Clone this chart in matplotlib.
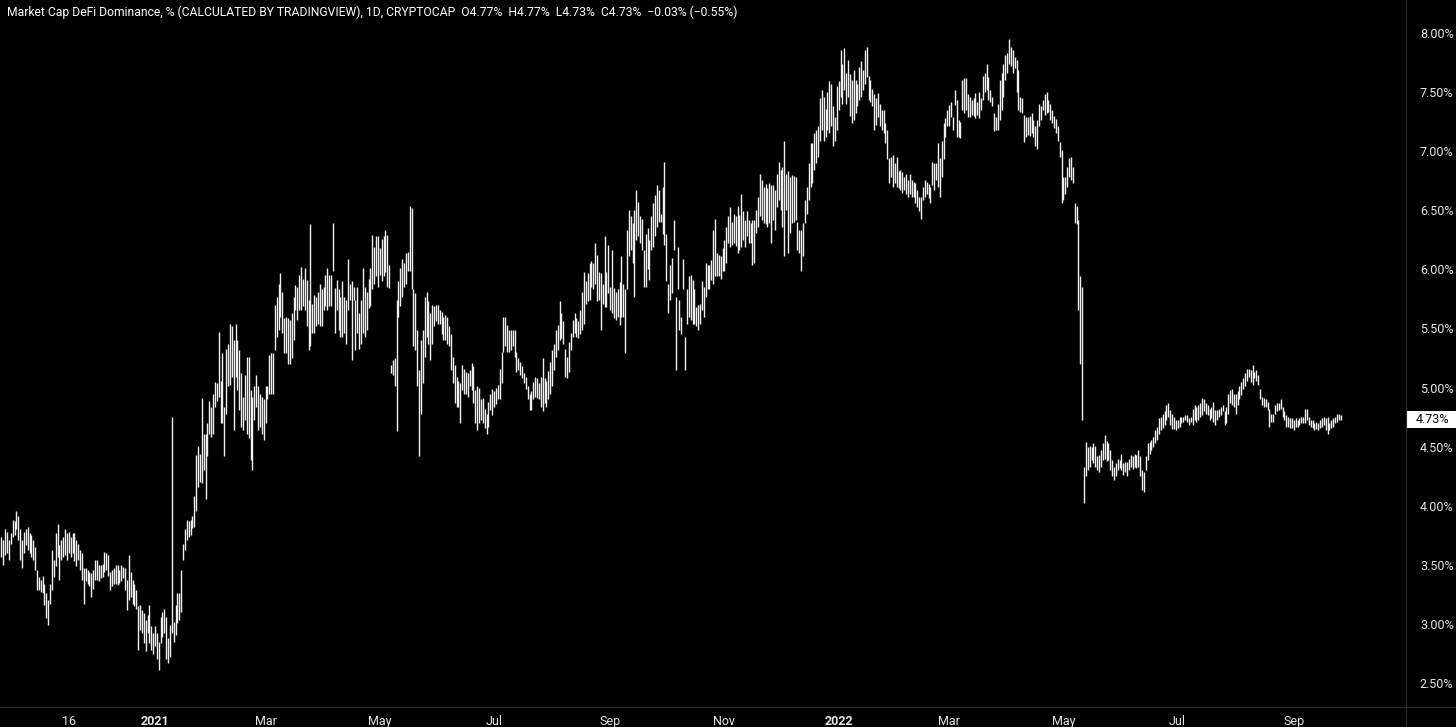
import matplotlib
matplotlib.use("Agg")
import matplotlib.pyplot as plt
import matplotlib.dates as mdates
import matplotlib.transforms as mtransforms
from matplotlib.patches import Rectangle
from matplotlib.lines import Line2D
import numpy as np
import pandas as pd

plt.rcParams['font.family'] = ['Roboto', 'DejaVu Sans']

title = 'Market Cap DeFi Dominance, % (CALCULATED BY TRADINGVIEW), 1D, CRYPTOCAP'
ohlc_text = 'O4.77%  H4.77%  L4.73%  C4.73%  \u22120.03% (\u22120.55%)'
last_price = 4.73

# daily bars as (low, high) in %
bars_2020_10 = [
    (3.57, 3.74), (3.50, 3.71), (3.58, 3.80), (3.60, 3.78), (3.54, 3.71), (3.68, 3.77), (3.74, 3.88), (3.75, 3.87),
    (3.80, 3.96), (3.71, 3.91), (3.54, 3.80), (3.47, 3.71), (3.60, 3.78), (3.67, 3.80), (3.63, 3.82), (3.60, 3.77),
    (3.57, 3.75), (3.54, 3.71), (3.46, 3.65), (3.29, 3.46), (3.29, 3.40), (3.27, 3.37), (3.26, 3.41), (3.16, 3.34),
    (3.05, 3.26), (2.99, 3.20), (3.17, 3.34), (3.29, 3.63), (3.40, 3.54), (3.49, 3.77), (3.57, 3.85), (3.37, 3.67),
    (3.54, 3.71), (3.57, 3.74), (3.58, 3.80), (3.54, 3.77), (3.60, 3.78), (3.57, 3.74), (3.60, 3.77), (3.53, 3.77),
    (3.49, 3.71), (3.54, 3.68), (3.46, 3.63), (3.37, 3.60), (3.17, 3.47), (3.36, 3.47), (3.34, 3.46), (3.32, 3.44),
    (3.23, 3.43), (3.30, 3.46), (3.37, 3.54), (3.37, 3.54), (3.36, 3.50), (3.39, 3.50), (3.40, 3.51), (3.44, 3.61),
    (3.46, 3.60), (3.41, 3.58), (3.29, 3.44), (3.32, 3.46), (3.34, 3.47), (3.34, 3.50), (3.33, 3.50), (3.35, 3.46),
]
bars_2020_12 = [
    (3.36, 3.50), (3.39, 3.48), (3.29, 3.47), (3.12, 3.37), (3.20, 3.58), (3.23, 3.44), (3.17, 3.37), (3.15, 3.34),
    (3.13, 3.29), (2.78, 3.15), (2.95, 3.16), (2.92, 3.12), (2.84, 3.09), (2.77, 3.03), (2.92, 3.08), (2.84, 3.16),
    (2.78, 2.98), (2.75, 2.92), (2.81, 2.98), (2.70, 2.92), (2.61, 2.85), (2.84, 3.06), (2.89, 3.10), (2.92, 3.13),
    (2.70, 3.06), (2.67, 2.88), (2.72, 2.99), (2.92, 4.75), (2.85, 3.02), (2.91, 3.16), (3.01, 3.26), (3.03, 3.26),
    (3.10, 3.46), (3.54, 3.68), (3.63, 3.80), (3.71, 3.88), (3.74, 3.87), (3.75, 3.88), (3.81, 3.91), (3.82, 4.08),
    (3.96, 4.43), (4.16, 4.51), (4.20, 4.44), (4.19, 4.91), (4.30, 4.61), (4.06, 4.61), (4.42, 4.70), (4.61, 4.89),
    (4.58, 4.84), (4.61, 4.95), (4.84, 5.05), (4.89, 5.04), (4.92, 5.47), (4.70, 5.06), (4.70, 5.29), (4.42, 4.84),
    (4.78, 5.33), (5.01, 5.37), (5.02, 5.54), (5.09, 5.52), (4.64, 5.40),
]
bars_2021_02 = [
    (5.09, 5.54), (4.98, 5.40), (4.81, 5.32), (4.67, 5.12), (4.64, 4.92), (4.73, 5.11), (4.61, 5.26), (4.57, 5.26),
    (4.39, 4.98), (4.30, 4.92), (4.73, 5.01), (4.84, 5.11), (4.64, 5.01), (4.67, 4.95), (4.61, 4.92), (4.56, 4.90),
    (4.70, 5.01), (4.90, 5.01), (4.95, 5.28), (4.95, 5.29), (4.95, 5.29), (5.32, 5.70), (5.43, 5.77), (5.49, 5.88),
    (5.60, 5.97), (5.46, 5.81), (5.29, 5.59), (5.29, 5.60), (5.20, 5.59), (5.20, 5.57), (5.25, 5.63), (5.40, 5.77),
    (5.66, 5.87), (5.57, 5.85), (5.66, 5.95), (5.66, 6.02), (5.69, 5.92), (5.66, 6.01), (5.52, 5.91), (5.32, 5.74),
    (5.35, 6.38), (5.46, 5.71), (5.46, 5.78), (5.52, 5.77), (5.54, 5.81), (5.52, 5.88), (5.52, 5.83), (5.66, 5.85),
    (5.69, 5.95), (5.66, 6.01), (5.69, 5.95), (5.69, 5.95), (5.99, 6.39), (5.46, 5.84), (5.66, 5.91), (5.49, 5.83),
    (5.43, 5.77), (5.43, 5.90), (5.46, 5.77), (5.37, 5.74), (5.66, 6.09), (5.74, 5.88), (5.23, 5.90), (5.74, 5.85),
    (5.32, 5.74), (5.46, 5.85),
]
bars_2021_04 = [
    (5.33, 5.63), (5.37, 5.74), (5.46, 6.01), (5.43, 5.85), (5.49, 5.81), (5.67, 5.92), (5.69, 6.01), (5.83, 6.29),
    (5.88, 6.19), (5.94, 6.28), (5.85, 6.28), (5.95, 6.18), (5.90, 6.26), (5.94, 6.28), (5.98, 6.33), (5.85, 6.29),
    (5.84, 6.04), (5.12, 5.19), (5.11, 5.23), (5.01, 5.25), (4.63, 5.74), (5.60, 5.90), (5.69, 6.01), (5.77, 6.09),
    (5.85, 6.05), (5.88, 6.14), (5.99, 6.15), (5.99, 6.54), (5.83, 6.52), (5.35, 5.83), (5.32, 5.80), (5.01, 5.49),
    (4.42, 5.15), (4.78, 5.40), (5.04, 5.49), (5.26, 5.77), (5.43, 5.81), (5.37, 5.73), (5.23, 5.63), (5.37, 5.70),
    (5.52, 5.69), (5.56, 5.70), (5.54, 5.70), (5.54, 5.66), (5.45, 5.64), (5.40, 5.60), (5.40, 5.61), (5.37, 5.60),
    (5.35, 5.52), (5.15, 5.45), (5.04, 5.26), (4.87, 5.19), (4.84, 5.09), (4.84, 5.06), (4.70, 5.04), (4.98, 5.19),
    (4.95, 5.16), (4.95, 5.13), (4.92, 5.12), (5.01, 5.15), (4.98, 5.21), (4.87, 5.18), (4.70, 4.98), (4.64, 5.01),
]
bars_2021_06 = [
    (4.70, 5.00), (4.73, 4.90), (4.70, 4.91), (4.66, 4.82), (4.61, 4.78), (4.67, 4.88), (4.81, 4.95), (4.77, 4.99),
    (4.84, 4.97), (4.86, 5.00), (4.90, 5.02), (4.90, 5.16), (5.04, 5.30), (5.30, 5.60), (5.35, 5.60), (5.30, 5.53),
    (5.30, 5.49), (5.32, 5.49), (5.35, 5.49), (5.26, 5.49), (5.13, 5.30), (5.15, 5.25), (5.11, 5.22), (5.08, 5.18),
    (5.04, 5.12), (4.99, 5.09), (4.90, 5.01), (4.81, 4.95), (4.81, 4.97), (4.90, 5.05), (4.92, 5.09), (4.91, 5.08),
    (4.90, 5.04), (4.84, 5.09), (4.80, 5.25), (4.87, 5.08), (4.84, 5.06), (4.90, 5.14), (4.95, 5.22), (5.01, 5.32),
    (5.15, 5.37), (5.26, 5.49), (5.32, 5.53), (5.40, 5.73), (5.42, 5.63), (5.37, 5.56), (5.09, 5.33), (5.08, 5.26),
    (5.13, 5.39), (5.32, 5.46), (5.43, 5.57), (5.46, 5.63), (5.43, 5.59), (5.42, 5.56), (5.45, 5.66), (5.49, 5.81),
    (5.54, 5.98), (5.71, 5.90), (5.73, 5.97), (5.74, 6.05), (5.85, 6.07), (5.83, 6.05), (5.88, 6.22), (5.73, 6.12),
]
bars_2021_08 = [
    (5.74, 5.98), (5.49, 5.97), (5.71, 5.88), (5.68, 6.28), (5.68, 5.98), (5.80, 6.21), (5.66, 5.85), (5.63, 6.16),
    (5.59, 5.84), (5.57, 5.81), (5.60, 5.83), (5.53, 5.89), (5.60, 6.11), (5.60, 5.88), (5.29, 5.83), (5.83, 6.33),
    (6.11, 6.50), (6.16, 6.45), (6.05, 6.39), (5.77, 6.50), (6.25, 6.67), (6.28, 6.57), (6.22, 6.45), (6.16, 6.43),
    (5.85, 6.16), (5.85, 6.30), (6.00, 6.35), (5.91, 6.25), (6.16, 6.45), (6.19, 6.56), (6.28, 6.63), (6.36, 6.71),
    (6.40, 6.67), (6.40, 6.47), (6.30, 6.70), (6.21, 6.91), (5.90, 6.30), (5.63, 5.88), (5.74, 6.04), (5.80, 6.10),
    (6.16, 6.42), (5.15, 5.77), (5.83, 6.19), (5.49, 5.74), (5.45, 5.60), (5.83, 6.09), (5.15, 5.43), (5.54, 5.83),
    (5.60, 5.94), (5.57, 5.95), (5.54, 5.91), (5.54, 5.83), (5.52, 5.68), (5.49, 5.70), (5.54, 5.71), (5.66, 5.90),
    (5.60, 5.85), (5.77, 6.05), (5.83, 6.04), (5.83, 6.04), (5.91, 6.08), (5.88, 6.33), (5.94, 6.43), (5.94, 6.14),
]
bars_2021_10 = [
    (5.94, 6.12), (5.92, 6.11), (5.99, 6.18), (5.99, 6.25), (6.05, 6.36), (6.22, 6.45), (6.19, 6.53), (6.21, 6.40),
    (6.22, 6.47), (6.20, 6.45), (6.14, 6.54), (6.16, 6.46), (6.19, 6.64), (6.25, 6.49), (6.19, 6.42), (6.28, 6.49),
    (6.22, 6.42), (6.22, 6.39), (6.04, 6.42), (6.05, 6.42), (6.31, 6.50), (6.36, 6.61), (6.45, 6.81), (6.42, 6.76),
    (6.39, 6.70), (6.38, 6.72), (6.36, 6.69), (6.39, 6.73), (6.22, 6.71), (6.42, 6.71), (6.33, 6.67), (6.53, 6.81),
    (6.59, 6.91), (6.50, 6.84), (6.36, 6.87), (6.11, 7.09), (6.50, 6.81), (6.14, 6.83), (6.31, 6.78), (6.39, 6.80),
    (6.40, 6.79), (6.42, 6.78), (6.16, 6.40), (6.14, 6.33), (5.99, 6.33), (6.11, 6.39), (6.39, 6.59), (6.47, 6.70),
    (6.59, 6.90), (6.70, 7.07), (6.73, 7.07), (6.84, 7.15), (6.90, 7.18), (6.95, 7.21), (7.09, 7.45), (7.18, 7.52),
    (7.09, 7.46), (7.12, 7.36), (7.18, 7.50), (7.15, 7.59), (7.21, 7.57), (7.04, 7.38), (7.09, 7.29), (7.18, 7.55),
]
bars_2022_01 = [
    (7.35, 7.59), (7.46, 7.86), (7.40, 7.74), (7.52, 7.87), (7.40, 7.66), (7.46, 7.77), (7.30, 7.65), (7.24, 7.60),
    (7.26, 7.69), (7.32, 7.60), (7.38, 7.57), (7.43, 7.71), (7.46, 7.76), (7.52, 7.69), (7.57, 7.86), (7.63, 7.88),
    (7.43, 7.64), (7.42, 7.60), (7.38, 7.53), (7.18, 7.48), (7.22, 7.45), (7.29, 7.49), (7.21, 7.40), (7.18, 7.35),
    (7.15, 7.35), (7.07, 7.24), (6.93, 7.18), (6.73, 6.94), (6.78, 6.95), (6.70, 6.97), (6.73, 6.90), (6.70, 6.95),
    (6.69, 6.83), (6.67, 6.84), (6.65, 6.82), (6.67, 6.78), (6.64, 6.81), (6.61, 6.76), (6.64, 6.81), (6.61, 6.76),
    (6.61, 6.74), (6.56, 6.73), (6.53, 6.67), (6.49, 6.61), (6.43, 6.61), (6.59, 6.70), (6.61, 6.76), (6.64, 6.74),
    (6.60, 6.72), (6.56, 6.70), (6.71, 6.91), (6.67, 6.90), (6.76, 6.90), (6.70, 7.07), (6.61, 6.94), (6.78, 7.09),
    (6.93, 7.24), (7.12, 7.28), (7.21, 7.35), (7.21, 7.39), (7.29, 7.42), (7.18, 7.29), (7.39, 7.52), (7.12, 7.43),
]
bars_2022_03 = [
    (7.12, 7.26), (7.11, 7.25), (7.35, 7.60), (7.32, 7.62), (7.35, 7.62), (7.29, 7.48), (7.29, 7.46), (7.31, 7.43),
    (7.30, 7.45), (7.28, 7.49), (7.31, 7.42), (7.28, 7.50), (7.35, 7.45), (7.43, 7.64), (7.50, 7.66), (7.52, 7.74),
    (7.43, 7.63), (7.42, 7.52), (7.38, 7.46), (7.17, 7.32), (7.18, 7.29), (7.18, 7.40), (7.26, 7.60), (7.35, 7.66),
    (7.46, 7.74), (7.60, 7.81), (7.66, 7.83), (7.74, 7.95), (7.72, 7.88), (7.66, 7.86), (7.70, 7.80), (7.50, 7.77),
    (7.35, 7.69), (7.33, 7.46), (7.32, 7.45), (7.08, 7.31), (7.12, 7.29), (7.14, 7.29), (7.13, 7.30), (7.15, 7.32),
    (7.12, 7.26), (7.04, 7.21), (7.02, 7.26), (7.21, 7.40), (7.26, 7.38), (7.35, 7.43), (7.31, 7.48), (7.32, 7.50),
    (7.33, 7.43), (7.26, 7.40), (7.24, 7.35), (7.20, 7.30), (7.15, 7.27), (7.09, 7.21), (6.95, 7.08), (6.56, 7.01),
    (6.59, 6.78), (6.64, 6.78), (6.70, 6.87), (6.78, 6.94), (6.76, 6.95), (6.73, 6.87), (6.39, 6.56), (6.38, 6.54),
    (5.66, 6.42), (5.20, 5.94),
]
bars_2022_05 = [
    (4.73, 5.85), (4.02, 4.33), (4.25, 4.54), (4.30, 4.50), (4.33, 4.51), (4.39, 4.50), (4.36, 4.53), (4.33, 4.51),
    (4.30, 4.42), (4.29, 4.43), (4.33, 4.47), (4.39, 4.53), (4.40, 4.60), (4.38, 4.55), (4.39, 4.53), (4.30, 4.47),
    (4.25, 4.39), (4.22, 4.33), (4.25, 4.36), (4.30, 4.40), (4.32, 4.39), (4.30, 4.44), (4.26, 4.36), (4.29, 4.37),
    (4.25, 4.37), (4.30, 4.40), (4.33, 4.43), (4.31, 4.42), (4.33, 4.44), (4.32, 4.43), (4.33, 4.47), (4.25, 4.42),
    (4.13, 4.30), (4.12, 4.29), (4.30, 4.42), (4.39, 4.53), (4.44, 4.54), (4.47, 4.56), (4.50, 4.58), (4.53, 4.64),
    (4.56, 4.67), (4.61, 4.74), (4.64, 4.75), (4.66, 4.78), (4.68, 4.80), (4.73, 4.85), (4.75, 4.87), (4.68, 4.81),
    (4.65, 4.78), (4.65, 4.75), (4.64, 4.73), (4.66, 4.73), (4.67, 4.75), (4.70, 4.75), (4.71, 4.75), (4.73, 4.77),
    (4.71, 4.77), (4.68, 4.74), (4.71, 4.75), (4.68, 4.82), (4.73, 4.85), (4.71, 4.84),
]
bars_2022_07 = [
    (4.73, 4.85), (4.75, 4.87), (4.77, 4.91), (4.80, 4.90), (4.78, 4.87), (4.77, 4.85), (4.73, 4.82), (4.74, 4.84),
    (4.71, 4.88), (4.68, 4.81), (4.73, 4.81), (4.75, 4.82), (4.77, 4.84), (4.80, 4.85), (4.68, 4.80), (4.70, 4.84),
    (4.78, 4.95), (4.87, 4.98), (4.85, 4.99), (4.84, 4.95), (4.78, 4.95), (4.85, 4.97), (4.90, 5.01), (4.94, 5.05),
    (4.99, 5.08), (5.01, 5.12), (5.06, 5.16), (5.09, 5.16), (5.05, 5.15), (5.02, 5.19), (5.08, 5.13), (5.06, 5.15),
    (5.02, 5.11), (4.90, 4.99), (4.85, 4.92), (4.84, 4.91), (4.84, 4.90), (4.81, 4.88), (4.67, 4.82), (4.71, 4.78),
    (4.71, 4.78), (4.78, 4.85), (4.80, 4.87), (4.81, 4.87), (4.82, 4.90), (4.75, 4.84), (4.73, 4.80), (4.67, 4.77),
    (4.67, 4.75), (4.66, 4.74), (4.66, 4.74), (4.64, 4.73), (4.67, 4.74), (4.67, 4.73), (4.68, 4.74), (4.70, 4.75),
    (4.70, 4.75), (4.70, 4.82), (4.73, 4.82), (4.68, 4.75), (4.67, 4.73), (4.66, 4.73), (4.64, 4.70), (4.65, 4.71),
    (4.64, 4.70), (4.66, 4.73), (4.67, 4.74), (4.68, 4.75), (4.64, 4.74), (4.61, 4.75), (4.64, 4.70), (4.66, 4.73),
    (4.67, 4.74), (4.70, 4.75), (4.71, 4.78), (4.73, 4.78), (4.73, 4.77),
]

segments = [
    ('2020-10-11', bars_2020_10), ('2020-12-14', bars_2020_12), ('2021-02-13', bars_2021_02),
    ('2021-04-20', bars_2021_04), ('2021-06-23', bars_2021_06), ('2021-08-26', bars_2021_08),
    ('2021-10-29', bars_2021_10), ('2022-01-01', bars_2022_01), ('2022-03-06', bars_2022_03),
    ('2022-05-11', bars_2022_05), ('2022-07-12', bars_2022_07),
]

tick_dates = ['2020-11-16', '2021-01-01', '2021-03-01', '2021-05-01', '2021-07-01', '2021-09-01',
              '2021-11-01', '2022-01-01', '2022-03-01', '2022-05-01', '2022-07-01', '2022-09-01']
tick_labels = ['16', '2021', 'Mar', 'May', 'Jul', 'Sep', 'Nov', '2022', 'Mar', 'May', 'Jul', 'Sep']
price_ticks = [2.5, 3.0, 3.5, 4.0, 4.5, 5.0, 5.5, 6.0, 6.5, 7.0, 7.5, 8.0]

W, H = 1456, 727
fig = plt.figure(figsize=(W / 100, H / 100), dpi=100, facecolor='black')
ax = fig.add_axes([0, 20 / H, 1406 / W, 707 / H])
ax.set_facecolor('black')

for start, bars in segments:
    days = mdates.date2num(pd.date_range(start, periods=len(bars), freq='D').to_pydatetime())
    lo = [b[0] for b in bars]
    hi = [b[1] for b in bars]
    ax.vlines(days, lo, hi, color='#f0f0f0', lw=1.0)

base = mdates.date2num(pd.Timestamp('2021-01-01').to_pydatetime())
ax.set_xlim(base - 82.75, base + 667.9)
ax.set_ylim(2.298, 8.279)

for s in ax.spines.values():
    s.set_visible(False)

ax.set_xticks(mdates.date2num(pd.to_datetime(tick_dates).to_pydatetime()))
ax.set_xticklabels(tick_labels)
for lab in ax.get_xticklabels():
    if lab.get_text() in ('2021', '2022'):
        lab.set_fontweight('bold')
ax.tick_params(axis='x', length=0, pad=6, labelsize=9, labelcolor='#e6e6e6')

ax.yaxis.tick_right()
ax.set_yticks(price_ticks)
ax.set_yticklabels([f'{v:.2f}%' for v in price_ticks])
ax.tick_params(axis='y', length=0, pad=10, labelsize=9, labelcolor='#e6e6e6')
for lab in ax.get_yticklabels():
    lab.set_horizontalalignment('left')

# last price marker on the scale
trans = mtransforms.blended_transform_factory(ax.transAxes, ax.transData)
ax.add_patch(Rectangle((1.0, last_price - 0.068), 50 / 1406, 0.136, transform=trans,
                       facecolor='white', edgecolor='none', clip_on=False, zorder=5))
ax.text(1.0 + 10 / 1406, last_price, f'{last_price:.2f}%', transform=trans, ha='left', va='center',
        fontsize=9, color='black', zorder=6)

# pane separators
fig.add_artist(Line2D([1406 / W, 1406 / W], [0, 1], transform=fig.transFigure, color='#2b2b2b', lw=0.8))
fig.add_artist(Line2D([0, 1], [20 / H, 20 / H], transform=fig.transFigure, color='#2b2b2b', lw=0.8))

fig.text(7 / W, 1 - 12 / H, title + '  ' + ohlc_text, ha='left', va='center',
         fontsize=8.75, color='white')

fig.savefig('out.png', dpi=100, facecolor='black')
